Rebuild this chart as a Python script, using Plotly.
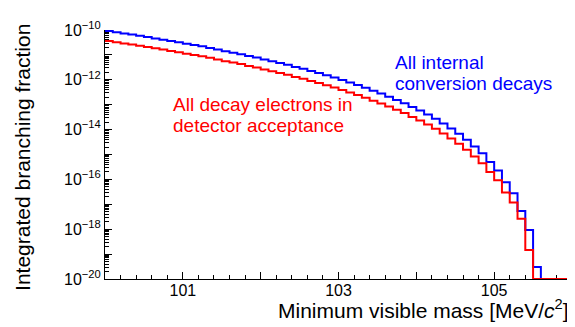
import plotly.graph_objects as go

# ---- data ----
bin_lo = 100.0
bin_width = 0.1
n_bins = 60
bin_edges = [round(bin_lo + bin_width * i, 4) for i in range(n_bins + 1)]

# Integrated branching fraction per bin; 1e-20 = axis floor (empty)
all_ic_decays = [
    9.1e-11, 8.1e-11, 7.2e-11, 6.6e-11, 5.9e-11, 5.2e-11, 4.6e-11, 4.1e-11, 3.6e-11, 3.2e-11,
    2.8e-11, 2.5e-11, 2.2e-11, 1.9e-11, 1.66e-11, 1.41e-11, 1.23e-11, 1.07e-11, 9.1e-12, 7.8e-12,
    6.6e-12, 5.6e-12, 4.7e-12, 4.0e-12, 3.3e-12, 2.75e-12, 2.24e-12, 1.86e-12, 1.51e-12, 1.23e-12,
    9.8e-13, 7.8e-13, 6.2e-13, 4.8e-13, 3.6e-13, 2.8e-13, 2.1e-13, 1.55e-13, 1.15e-13, 8.1e-14,
    5.8e-14, 4.0e-14, 2.7e-14, 1.74e-14, 1.10e-14, 6.8e-15, 3.9e-15, 2.1e-15, 1.12e-15, 5.0e-16,
    2.3e-16, 7.6e-17, 2.75e-17, 5.4e-18, 9.3e-19, 3.0e-20, 1e-20, 1e-20, 1e-20, 1e-20,
]
in_acceptance = [
    3.6e-11, 3.2e-11, 2.9e-11, 2.6e-11, 2.35e-11, 2.07e-11, 1.83e-11, 1.63e-11, 1.43e-11, 1.27e-11,
    1.11e-11, 1.0e-11, 8.8e-12, 7.6e-12, 6.6e-12, 5.6e-12, 4.9e-12, 4.3e-12, 3.6e-12, 3.1e-12,
    2.6e-12, 2.2e-12, 1.87e-12, 1.59e-12, 1.31e-12, 1.09e-12, 8.9e-13, 7.4e-13, 6.0e-13, 4.9e-13,
    3.9e-13, 3.1e-13, 2.47e-13, 1.91e-13, 1.43e-13, 1.11e-13, 8.4e-14, 6.2e-14, 4.6e-14, 3.2e-14,
    2.3e-14, 1.6e-14, 1.07e-14, 6.9e-15, 4.4e-15, 2.7e-15, 1.55e-15, 8.4e-16, 4.5e-16, 2.0e-16,
    9.3e-17, 3.0e-17, 1.17e-17, 2.6e-18, 1.45e-19, 1e-20, 1e-20, 1e-20, 1e-20, 1e-20,
]

x_tick_vals = [100, 101, 102, 103, 104, 105, 106]
x_tick_text = ["", "101", "", "103", "", "105", ""]
y_exponents = list(range(-20, -9))

FONT = "Liberation Sans, Arial, sans-serif"
BLUE = "rgb(0,0,255)"
RED = "rgb(255,0,0)"

fig = go.Figure()
fig.add_trace(go.Scatter(x=bin_edges, y=all_ic_decays + [all_ic_decays[-1]], mode="lines",
                         line=dict(color=BLUE, width=2, shape="hv"), showlegend=False))
fig.add_trace(go.Scatter(x=bin_edges, y=in_acceptance + [in_acceptance[-1]], mode="lines",
                         line=dict(color=RED, width=2, shape="hv"), showlegend=False))

y_tick_vals = [10.0 ** e for e in y_exponents]
y_tick_text = [("10<sup>\u2212%d</sup>" % (-e)) if e % 2 == 0 else "" for e in y_exponents]
y_minor = [k * 10.0 ** e for e in y_exponents[:-1] for k in range(2, 10)]

fig.update_layout(
    width=575, height=327,
    margin=dict(l=97, r=11, t=18, b=56),
    paper_bgcolor="white", plot_bgcolor="white",
    font=dict(family=FONT, color="black", size=16),
    xaxis=dict(range=[100, 106], showline=True, linecolor="black", linewidth=1, mirror=False,
               ticks="inside", ticklen=7, tickcolor="black", tickwidth=1,
               tickmode="array", tickvals=x_tick_vals, ticktext=x_tick_text,
               tickfont=dict(size=16), ticklabelstandoff=-3,
               showgrid=False, zeroline=False, layer="below traces",
               minor=dict(ticks="inside", ticklen=4, tickcolor="black", tickwidth=1,
                          dtick=0.2, tick0=100, showgrid=False)),
    yaxis=dict(type="log", range=[-20, -10], showline=True, linecolor="black", linewidth=1,
               mirror=False, ticks="inside", ticklen=7, tickcolor="black", tickwidth=1,
               tickmode="array", tickvals=y_tick_vals, ticktext=y_tick_text,
               tickfont=dict(size=16), showgrid=False, zeroline=False, layer="below traces",
               minor=dict(ticks="inside", ticklen=4, tickcolor="black", tickwidth=1,
                          tickmode="array", tickvals=y_minor, showgrid=False)),
)

PW = 575 - 97 - 11
PH = 327 - 18 - 56

def px_x(px):
    return (px - 97) / PW

def px_y(py):
    return (327 - 56 - py) / PH

anns = [
    ("All internal", 385, 51.5, BLUE),
    ("conversion decays", 385, 72.5, BLUE),
    ("All decay electrons in", 163, 94, RED),
    ("detector acceptance", 163, 115.5, RED),
]
for txt, x, y, c in anns:
    fig.add_annotation(text=txt, xref="paper", yref="paper", x=px_x(x), y=px_y(y),
                       xanchor="left", yanchor="middle", showarrow=False,
                       font=dict(family=FONT, size=19, color=c))

fig.add_annotation(text="Integrated branching fraction", xref="paper", yref="paper",
                   x=px_x(15), y=px_y(148), textangle=-90, xanchor="center", yanchor="middle",
                   showarrow=False, font=dict(family=FONT, size=21, color="black"))
fig.add_annotation(text="Minimum visible mass [MeV/<i>c</i><sup>2</sup>]", xref="paper", yref="paper",
                   x=px_x(563), y=px_y(301), xanchor="right", yanchor="middle",
                   showarrow=False, font=dict(family=FONT, size=21, color="black"))

fig.write_html("out.html")
